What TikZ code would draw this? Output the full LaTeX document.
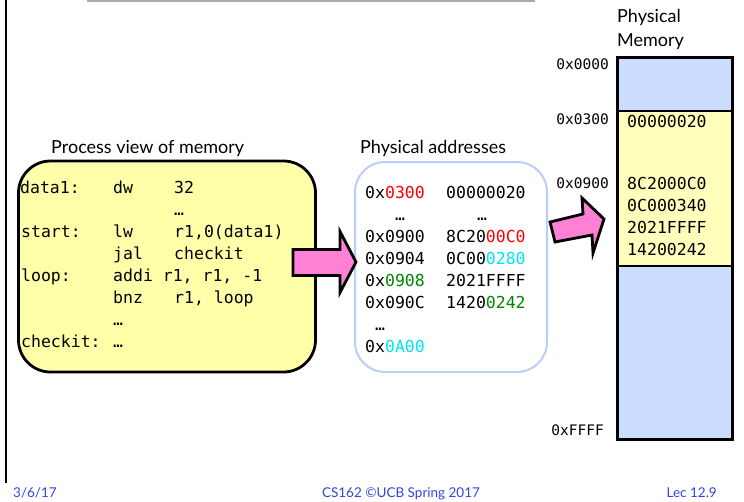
\documentclass[tikz,border=0pt]{standalone}
\usepackage{fontspec}
\setmainfont{Lato}
\setmonofont{DejaVu Sans Mono}
\definecolor{procyellow}{RGB}{255,255,170}
\definecolor{memyellow}{RGB}{255,255,187}
\definecolor{memblue}{RGB}{204,221,255}
\definecolor{physblue}{RGB}{188,204,255}
\definecolor{arrowpink}{RGB}{255,128,212}
\definecolor{addrred}{RGB}{255,0,0}
\definecolor{addrcyan}{RGB}{0,230,240}
\definecolor{addrgreen}{RGB}{0,135,0}
\definecolor{footblue}{RGB}{50,70,220}
\definecolor{rulegray}{RGB}{170,170,170}
\begin{document}
\begin{tikzpicture}[x=1pt,y=-1pt,
  code/.style={font=\fontsize{16.5}{20}\ttfamily, inner sep=0pt, anchor=base west},
  addr/.style={font=\fontsize{14.5}{17}\ttfamily, inner sep=0pt, anchor=base east},
  title/.style={font=\fontsize{18}{22}\selectfont, inner sep=0pt, anchor=base west},
  foot/.style={font=\fontsize{13.5}{16}\selectfont, text=footblue, inner sep=0pt, anchor=base},
  procbox/.style={draw=black, line width=2.8pt, fill=procyellow, rounded corners=32pt, inner sep=0pt},
  physbox/.style={draw=physblue, line width=2pt, fill=white, rounded corners=30pt, inner sep=0pt},
  memcell/.style={draw=black, line width=2.8pt, inner sep=0pt, minimum width=115pt},
  blockarrow/.style={fill=arrowpink, draw=black, line width=2.8pt, line join=miter, miter limit=8},
]
\useasboundingbox (0,0) rectangle (744,501);

% slide frame
\draw[line width=2.5pt] (6,0) -- (6,483);
\draw[rulegray, line width=1.5pt] (87,1) -- (535,1);

% process view
\node[title] (proctitle) at (51,153) {Process view of memory};
\node[procbox, minimum width=297pt, minimum height=211pt] (proc) at (167,266.5) {};
\node[code] (l1a) at (20,193) {data1:};
\node[code] (l1b) at (113,193) {dw};
\node[code] (l1c) at (174,193) {32};
\node[code] (l2c) at (174,215) {…};
\node[code] (l3a) at (21,237) {start:};
\node[code] (l3b) at (113,237) {lw};
\node[code] (l3c) at (174,237) {r1,0(data1)};
\node[code] (l4b) at (113,259) {jal};
\node[code] (l4c) at (174,259) {checkit};
\node[code] (l5a) at (21,281) {loop:};
\node[code] (l5b) at (113,281) {addi r1, r1, -1};
\node[code] (l6b) at (113,303) {bnz};
\node[code] (l6c) at (174,303) {r1, loop};
\node[code] (l7b) at (113,325) {…};
\node[code] (l8a) at (21,347) {checkit:};
\node[code] (l8b) at (113,347) {…};

% physical addresses
\node[title] (phystitle) at (360,153) {Physical addresses};
\node[physbox, minimum width=192pt, minimum height=210pt] (phys) at (451,267) {};
\node[code] (p1a) at (365,198) {0x\textcolor{addrred}{0300}};
\node[code] (p1b) at (446,198) {00000020};
\node[code] (p2a) at (395,220) {…};
\node[code] (p2b) at (477,220) {…};
\node[code] (p3a) at (365,242) {0x0900};
\node[code] (p3b) at (446,242) {8C20\textcolor{addrred}{00C0}};
\node[code] (p4a) at (365,264) {0x0904};
\node[code] (p4b) at (446,264) {0C00\textcolor{addrcyan}{0280}};
\node[code] (p5a) at (365,286) {0x\textcolor{addrgreen}{0908}};
\node[code] (p5b) at (446,286) {2021FFFF};
\node[code] (p6a) at (365,308) {0x090C};
\node[code] (p6b) at (446,308) {1420\textcolor{addrgreen}{0242}};
\node[code] (p7a) at (375,330) {…};
\node[code] (p8a) at (365,352) {0x\textcolor{addrcyan}{0A00}};

% physical memory
\node[title] (memtitle1) at (617,22.7) {Physical};
\node[title] (memtitle2) at (617,46.7) {Memory};
\node[memcell, fill=memblue, minimum height=53.5pt] (m0) at (675,84.25) {};
\node[memcell, fill=memyellow, minimum height=155pt] (m1) at (675,188.5) {};
\node[memcell, fill=memblue, minimum height=173.5pt] (m2) at (675,352.75) {};
\node[addr] (a0) at (609,69) {0x0000};
\node[addr] (a1) at (609,124.5) {0x0300};
\node[addr] (a2) at (609,188) {0x0900};
\node[addr] (a3) at (604,435) {0xFFFF};
\node[code] (v0) at (627,127) {00000020};
\node[code] (v1) at (627,189) {8C2000C0};
\node[code] (v2) at (627,211) {0C000340};
\node[code] (v3) at (627,233) {2021FFFF};
\node[code] (v4) at (627,255) {14200242};

% block arrows
\draw[blockarrow] (293,249.5) -- (340,249.5) -- (340,231.5) -- (356,262)
  -- (340,292.5) -- (340,275.5) -- (293,275.5) -- cycle;
\draw[blockarrow] (550,222) -- (583,214) -- (582,198) -- (604,219)
  -- (593,253) -- (592,235) -- (555,242) -- cycle;

% footer
\node[foot, anchor=base west] (fdate) at (13,497) {3/6/17};
\node[foot] (fcourse) at (401,497) {CS162 ©UCB Spring 2017};
\node[foot, anchor=base east] (flec) at (717,497) {Lec 12.9};
\end{tikzpicture}
\end{document}
